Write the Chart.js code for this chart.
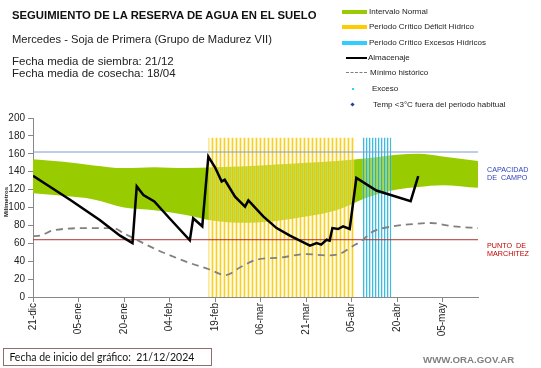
<!DOCTYPE html>
<html>
<head>
<meta charset="utf-8">
<script src="https://cdn.jsdelivr.net/npm/chart.js@4.4.1/dist/chart.umd.min.js"></script>
<style>
  body { margin: 0; background: #fff; font-family: "Liberation Sans", Arial, sans-serif; }
  #wrap { position: relative; width: 541px; height: 368px; overflow: hidden; }
  #chart { position: absolute; left: 0; top: 0; }
  .txt { position: absolute; white-space: nowrap; color: #111; }
  .leg { position: absolute; white-space: nowrap; font-size: 8px; line-height: 10px; color: #222; }
  .sw { position: absolute; }
</style>
</head>
<body>
<div id="wrap">
  <canvas id="chart" width="541" height="368"></canvas>

  <!-- titulos -->
  <div class="txt" style="left:12px; top:9px; font-size:11.3px; font-weight:bold;">SEGUIMIENTO DE LA RESERVA DE AGUA EN EL SUELO</div>
  <div class="txt" style="left:12px; top:33px; font-size:11.2px; color:#222;">Mercedes - Soja de Primera (Grupo de Madurez VII)</div>
  <div class="txt" style="left:12px; top:56px; font-size:11.5px; line-height:11.5px; color:#222;">Fecha media de siembra: 21/12<br>Fecha media de cosecha: 18/04</div>

  <!-- leyenda -->
  <div class="sw" style="left:342px; top:10px; width:25px; height:4px; background:#99cc00;"></div>
  <div class="leg" style="left:369px; top:7px;">Intervalo Normal</div>
  <div class="sw" style="left:342px; top:25px; width:25px; height:4px; background:#ffcc00;"></div>
  <div class="leg" style="left:369px; top:22px;">Periodo Crítico Déficit Hídrico</div>
  <div class="sw" style="left:342px; top:41px; width:25px; height:4px; background:#33ccff;"></div>
  <div class="leg" style="left:369px; top:38px;">Periodo Crítico Excesos Hídricos</div>
  <div class="sw" style="left:346px; top:57px; width:21px; height:2px; background:#000;"></div>
  <div class="leg" style="left:368px; top:53px;">Almacenaje</div>
  <div class="sw" style="left:346px; top:72px; width:21px; height:0; border-top:1.5px dashed #808080;"></div>
  <div class="leg" style="left:370px; top:68px;">Mínimo histórico</div>
  <div class="sw" style="left:352px; top:88px; width:2px; height:2px; background:#33ccff;"></div>
  <div class="leg" style="left:372px; top:84px;">Exceso</div>
  <div class="sw" style="left:351px; top:103px; width:3px; height:3px; background:#1f3f9f; transform:rotate(45deg);"></div>
  <div class="leg" style="left:373px; top:100px;">Temp &lt;3°C fuera del periodo habitual</div>

  <!-- etiquetas a la derecha -->
  <div class="txt" style="left:487px; top:166px; font-size:7.2px; line-height:7.8px; color:#3344bb;">CAPACIDAD<br>DE&nbsp; CAMPO</div>
  <div class="txt" style="left:487px; top:242px; font-size:7.2px; line-height:7.8px; color:#c00000;">PUNTO&nbsp; DE<br>MARCHITEZ</div>

  <!-- titulo eje y -->
  <div class="txt" style="left:6px; top:202px; font-size:6px; font-weight:bold; color:#222; transform:translate(-50%,-50%) rotate(-90deg);">Milímetros</div>

  <!-- pie -->
  <div class="txt" style="left:3px; top:348px; width:207px; height:16px; border:1px solid #8c6e6e; font-family:Lato, sans-serif; font-size:10.5px; line-height:16px; color:#111;">&nbsp;&nbsp;Fecha de inicio del gráfico:&nbsp; 21/12/2024</div>
  <div class="txt" style="left:423px; top:354px; font-size:9.7px; font-weight:bold; color:#808080;">WWW.ORA.GOV.AR</div>
</div>

<script>
/* ============================
   EJE X (dias desde 21-dic)
   ============================ */

const tickDays   = [0, 15, 30, 45, 60, 75, 90, 105, 120, 135];
const tickLabels = ["21-dic", "05-ene", "20-ene", "04-feb", "19-feb", "06-mar", "21-mar", "05-abr", "20-abr", "05-may"];
const lastDay = 146.7;

/* ============================
   INTERVALO NORMAL
   ============================ */

const bandDays   = [0, 10, 20, 30, 40, 50, 60, 70, 80, 90, 100, 110, 120, 127, 135, 146.7];
const bandTop    = [154, 151, 147, 144, 145, 144, 145, 146, 148, 150, 152, 155, 159, 160, 157, 152];
const bandBottom = [116, 113, 109, 100, 97, 92, 85, 83, 85, 90, 97, 111, 120, 123, 125, 122];

/* ============================
   ALMACENAJE
   ============================ */

const almDays = [0, 12.2, 22, 28.7, 32.8, 34.2, 36.4, 40, 45, 51.7, 52.8, 55.8, 57.8, 60, 62.2, 63.2,
                 66.6, 69.9, 71, 75.9, 80.3, 84.7, 91.3, 93.5, 95, 96.8, 97.8, 98.7, 100.6, 102.2,
                 104.4, 106.6, 113.2, 124.5, 127];
const almValues = [135.5, 108.7, 86, 68.5, 60.3, 123.6, 114, 106.8, 88, 63.3, 88, 79, 157, 145, 129, 131,
                   112, 101, 108, 90, 77, 68.5, 57.3, 60.3, 58.5, 64, 63, 77, 76, 79,
                   76, 133, 119, 107, 135];

/* ============================
   MINIMO HISTORICO
   ============================ */

const minDays   = [0, 2.3, 6.7, 18.8, 26.5, 29.8, 40.7, 51.7, 58, 63.5, 68.2, 73.7, 81.4, 90, 96.8,
                   101, 105.5, 108, 112, 118.7, 127, 131, 138.5, 146.7];
const minValues = [68, 68.5, 74.5, 77, 77, 71.5, 53, 38, 31, 24.5, 33, 41.7, 44, 48, 46.5,
                   48, 57, 62, 73, 79, 82, 82.7, 79, 77];

/* ============================
   UMBRALES Y PERIODOS CRITICOS
   ============================ */

const capacidadCampo = 162;
const puntoMarchitez = 64;
const periodTop = 178;
const deficitPeriod = [57.8, 106];
const excessPeriod  = [108.6, 118.2];

/* ============================
   HELPERS
   ============================ */

function toPoints(days, values) {
  return days.map((d, i) => ({ x: d, y: values[i] }));
}

function stripes(cols) {
  const c = document.createElement("canvas");
  c.width = cols.length;
  c.height = 1;
  const g = c.getContext("2d");
  cols.forEach((col, i) => {
    g.fillStyle = col;
    g.fillRect(i, 0, 1, 1);
  });
  return g.createPattern(c, "repeat");
}

const yellowStripes = stripes([
  "rgba(245,200,0,0.85)", "rgba(250,228,120,0.55)", "rgba(255,245,200,0.3)", "rgba(250,226,110,0.6)"
]);
const cyanStripes = stripes([
  "rgba(30,175,215,0.85)", "rgba(140,215,235,0.5)", "rgba(220,240,248,0.3)"
]);

const flat = { pointRadius: 0, pointHoverRadius: 0 };

/* ============================
   CHART
   ============================ */

const ctx = document.getElementById("chart").getContext("2d");

new Chart(ctx, {
  type: "line",
  data: {
    datasets: [
      { ...flat, data: toPoints(almDays, almValues), borderColor: "#000", borderWidth: 2.5, tension: 0, fill: false },
      { ...flat, data: toPoints(minDays, minValues), borderColor: "#808080", borderWidth: 1.8,
        borderDash: [7, 5], cubicInterpolationMode: "monotone", fill: false },
      { ...flat, data: [{ x: 0, y: capacidadCampo }, { x: lastDay, y: capacidadCampo }],
        borderColor: "#7f9bd0", borderWidth: 1, fill: false },
      { ...flat, data: [{ x: 0, y: puntoMarchitez }, { x: lastDay, y: puntoMarchitez }],
        borderColor: "#b03030", borderWidth: 1, fill: false },
      { ...flat, data: excessPeriod.map(d => ({ x: d, y: periodTop })),
        borderWidth: 0, backgroundColor: cyanStripes, fill: "origin" },
      { ...flat, data: deficitPeriod.map(d => ({ x: d, y: periodTop })),
        borderWidth: 0, backgroundColor: yellowStripes, fill: "origin" },
      { ...flat, data: toPoints(bandDays, bandTop), borderWidth: 0, borderColor: "#99cc00",
        backgroundColor: "#99cc00", cubicInterpolationMode: "monotone", fill: "+1" },
      { ...flat, data: toPoints(bandDays, bandBottom), borderWidth: 0, borderColor: "#99cc00",
        cubicInterpolationMode: "monotone", fill: false }
    ]
  },
  options: {
    responsive: false,
    animation: false,
    layout: { padding: { top: 118, right: 63, left: 0, bottom: 0 } },
    plugins: {
      legend: { display: false },
      tooltip: { enabled: false }
    },
    scales: {
      x: {
        type: "linear",
        min: 0,
        max: lastDay,
        afterFit: s => { s.height = 71; },
        afterBuildTicks: s => { s.ticks = tickDays.map(v => ({ value: v })); },
        grid: { drawOnChartArea: false, drawTicks: true, tickLength: 5, color: "#888" },
        border: { color: "#888", width: 1 },
        ticks: {
          autoSkip: false,
          minRotation: 90,
          maxRotation: 90,
          padding: 1,
          color: "#222",
          font: { family: "Liberation Sans", size: 10 },
          callback: (v, i) => tickLabels[i]
        }
      },
      y: {
        min: 0,
        max: 200,
        afterFit: s => { s.width = 33; },
        grid: { drawOnChartArea: false, drawTicks: true, tickLength: 5, color: "#888" },
        border: { color: "#888", width: 1 },
        ticks: {
          stepSize: 20,
          padding: 3,
          color: "#222",
          font: { family: "Liberation Sans", size: 10 }
        }
      }
    }
  }
});
</script>
</body>
</html>
